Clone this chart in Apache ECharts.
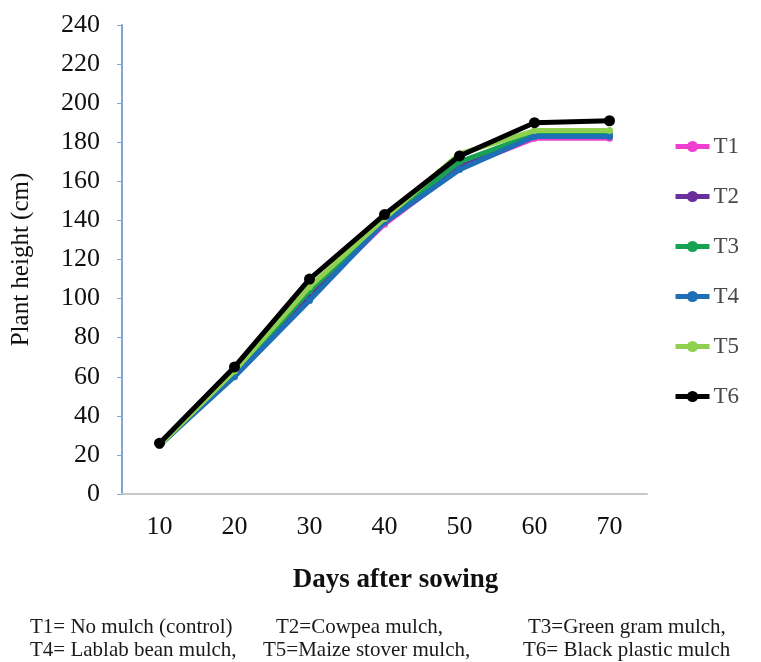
<!DOCTYPE html>
<html>
<head>
<meta charset="utf-8">
<script src="https://cdn.jsdelivr.net/npm/echarts@6/dist/echarts.min.js"></script>
<style>
  html, body { margin: 0; padding: 0; background: #fff; }
  #chart { width: 761px; height: 662px; }
</style>
</head>
<body>
<div id="chart"></div>
<script>
// days after sowing
const days = ['10', '20', '30', '40', '50', '60', '70']
const yTicks = [0, 240, 20]

// plant height (cm)
const t1 = [25, 61, 101, 138, 167, 182, 182]
const t2 = [25, 61, 102, 140, 168, 184, 184]
const t3 = [25, 62, 104, 140, 170, 184, 184]
const t4 = [25, 60, 99, 139, 166, 183, 183]
const t5 = [25, 63, 106, 141, 174, 186, 186]
const t6 = [26, 65, 110, 143, 173, 190, 191]

const names = ['T1', 'T2', 'T3', 'T4', 'T5', 'T6']
const colors = ['#ee3fce', '#6b2f9c', '#17a152', '#1f6fb6', '#8fd050', '#000000']
const values = [t1, t2, t3, t4, t5, t6]

const notes1 = ['T1= No mulch (control)', 'T2=Cowpea mulch,', 'T3=Green gram mulch,']
const notes2 = ['T4= Lablab bean mulch,', 'T5=Maize stover mulch,', 'T6= Black plastic mulch']
const noteX1 = [30, 276, 528]
const noteX2 = [30, 263, 523]

const serif = '"Liberation Serif", "DejaVu Serif", serif'

const chart = echarts.init(document.getElementById('chart'))

const series = names.map((n, i) => ({
  name: n,
  type: 'line',
  data: values[i],
  color: colors[i],
  symbol: 'circle',
  symbolSize: i === 5 ? 11 : 7,
  lineStyle: { width: 5, color: colors[i] },
  itemStyle: { color: colors[i] },
  z: 2 + i,
  animation: false
}))

const notes = []
notes1.forEach((t, i) => notes.push({
  type: 'text', left: noteX1[i], top: 617,
  style: { text: t, font: '21px ' + serif, fill: '#1a1a1a' }
}))
notes2.forEach((t, i) => notes.push({
  type: 'text', left: noteX2[i], top: 640,
  style: { text: t, font: '21px ' + serif, fill: '#1a1a1a' }
}))

let option = {
  backgroundColor: '#fff',
  animation: false,
  grid: { left: 122, right: 114, top: 25, bottom: 168 },
  legend: {
    orient: 'vertical',
    left: 668,
    top: 130,
    itemWidth: 34,
    itemHeight: 14,
    itemGap: 27,
    lineStyle: { width: 5 },
    textStyle: { fontFamily: serif, fontSize: 23, color: '#4a4a4a', padding: [0, 0, 0, -1] },
    data: names
  },
  xAxis: {
    type: 'category',
    data: days,
    boundaryGap: true,
    axisLine: { lineStyle: { color: '#c8c8c8', width: 2 } },
    axisTick: { show: false },
    axisLabel: { fontFamily: serif, fontSize: 26, color: '#111', margin: 20 },
    name: 'Days after sowing',
    nameLocation: 'middle',
    nameGap: 73,
    nameTextStyle: { fontFamily: serif, fontSize: 27, fontWeight: 'bold', color: '#111', padding: [0, 0, 0, 22] }
  },
  yAxis: {
    type: 'value',
    min: yTicks[0],
    max: yTicks[1],
    interval: yTicks[2],
    splitLine: { show: false },
    axisLine: { show: true, lineStyle: { color: '#7ea8cf', width: 2 } },
    axisTick: { show: true, inside: false, length: 5, lineStyle: { color: '#7ea8cf', width: 1 } },
    axisLabel: { fontFamily: serif, fontSize: 26, color: '#111', margin: 22 },
    name: 'Plant height (cm)',
    nameLocation: 'middle',
    nameRotate: 90,
    nameGap: 88,
    nameTextStyle: { fontFamily: serif, fontSize: 25, color: '#111' }
  },
  graphic: notes,
  series: series
}
chart.setOption(option)
</script>
</body>
</html>
